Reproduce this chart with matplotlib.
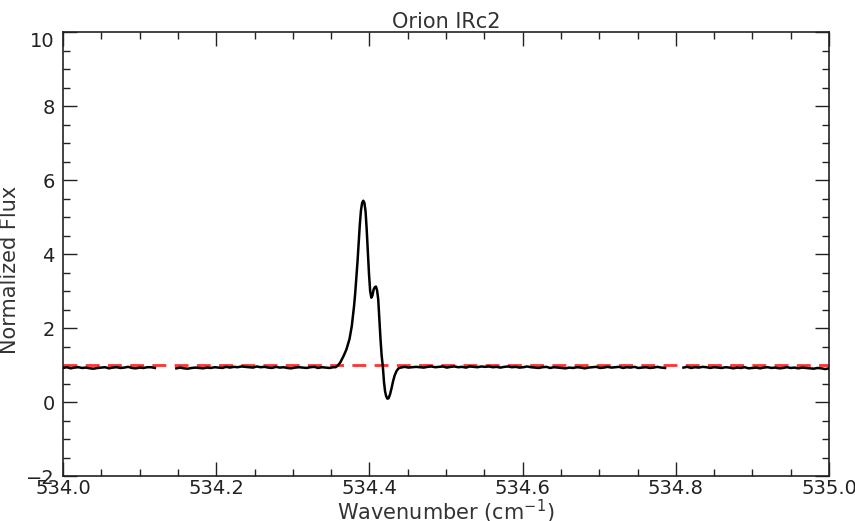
import numpy as np
from matplotlib import pyplot as plt
from matplotlib.ticker import MultipleLocator

# spectrum, continuum pieces sampled every 0.005 cm^-1
STEP = 0.005
seg_a_start = 534.000
seg_a_flux = [0.92, 0.94, 0.91, 0.93, 0.94, 0.92, 0.93, 0.91, 0.90, 0.92,
              0.93, 0.94, 0.91, 0.93, 0.94, 0.92, 0.93, 0.95, 0.92, 0.91,
              0.93, 0.92, 0.94, 0.94, 0.92]
seg_b_start = 534.148
seg_b_flux = [0.91, 0.93, 0.91, 0.90, 0.92, 0.93, 0.92, 0.91, 0.93, 0.92,
              0.94, 0.93, 0.92, 0.95, 0.93, 0.95, 0.94, 0.96, 0.95, 0.94,
              0.93, 0.96, 0.94, 0.95, 0.93, 0.92, 0.95, 0.93, 0.94, 0.92,
              0.91, 0.93, 0.94, 0.93, 0.92, 0.94, 0.95, 0.92, 0.94, 0.93,
              0.92, 0.94]
# line profile (irregular sampling)
line_wn = [534.356, 534.359, 534.362, 534.366, 534.370, 534.374, 534.377,
           534.380, 534.3815, 534.383, 534.3845, 534.386, 534.3875, 534.389,
           534.3905, 534.392, 534.3935, 534.395, 534.3965, 534.398, 534.3995,
           534.401, 534.4025, 534.404, 534.4055, 534.407, 534.4085, 534.410,
           534.4115, 534.413, 534.4145, 534.416, 534.4175, 534.419, 534.4205,
           534.422, 534.4235, 534.425, 534.427, 534.429, 534.431, 534.433,
           534.4355, 534.438]
line_flux = [0.94, 0.99, 1.07, 1.23, 1.42, 1.70, 2.05,
             2.60, 2.95, 3.38, 3.80, 4.30, 4.80, 5.18,
             5.38, 5.44, 5.38, 5.15, 4.65, 4.05, 3.45,
             3.00, 2.82, 2.88, 3.04, 3.10, 3.12, 3.02,
             2.78, 2.23, 1.70, 1.25, 0.97, 0.55, 0.28,
             0.15, 0.09, 0.10, 0.21, 0.38, 0.57, 0.72,
             0.84, 0.91]
seg_c_start = 534.441
seg_c_flux = [0.93, 0.95, 0.93, 0.94, 0.95, 0.94, 0.93, 0.95, 0.96, 0.94,
              0.95, 0.96, 0.93, 0.95, 0.96, 0.94, 0.95, 0.93, 0.96, 0.95,
              0.94, 0.96, 0.95, 0.96, 0.94, 0.95, 0.93, 0.95, 0.96, 0.94,
              0.95, 0.93, 0.94, 0.96, 0.94, 0.93, 0.92, 0.94, 0.95, 0.92,
              0.94, 0.93, 0.92, 0.91, 0.93, 0.92, 0.94, 0.93, 0.91, 0.93,
              0.94, 0.95, 0.92, 0.93, 0.95, 0.93, 0.94, 0.95, 0.92, 0.94,
              0.93, 0.95, 0.92, 0.93, 0.94, 0.92, 0.93, 0.95, 0.93, 0.92]
seg_d_start = 534.810
seg_d_flux = [0.93, 0.95, 0.92, 0.94, 0.93, 0.95, 0.94, 0.92, 0.94, 0.93,
              0.92, 0.94, 0.93, 0.91, 0.93, 0.92, 0.94, 0.91, 0.92, 0.93,
              0.91, 0.93, 0.94, 0.92, 0.93, 0.91, 0.92, 0.94, 0.92, 0.93,
              0.91, 0.93, 0.92, 0.91, 0.90, 0.92, 0.91, 0.89, 0.91]
continuum_level = 1.0

title = 'Orion IRc2'
xlabel = 'Wavenumber (cm$^{-1}$)'
ylabel = 'Normalized Flux'


def seg(start, flux):
    return start + STEP * np.arange(len(flux)), np.array(flux)


xa, ya = seg(seg_a_start, seg_a_flux)
xb, yb = seg(seg_b_start, seg_b_flux)
xc, yc = seg(seg_c_start, seg_c_flux)
xd, yd = seg(seg_d_start, seg_d_flux)
# middle piece joins continuum + line profile (no gap there)
xm = np.concatenate([xb, line_wn, xc])
ym = np.concatenate([yb, line_flux, yc])

plt.rcParams['font.family'] = ['DejaVu Sans']
fig = plt.figure(figsize=(8.55, 5.21), dpi=100)
ax = fig.add_axes([63 / 855, 1 - 476 / 521, 766 / 855, 444 / 521])

ink = '#222222'
for x, y in [(xa, ya), (xm, ym), (xd, yd)]:
    ax.plot(x, y, color='black', lw=1.8, zorder=3)
ax.axhline(continuum_level, color='#ff3333', lw=2, dashes=(5, 3), zorder=2)

ax.set_xlim(534.0, 535.0)
ax.set_ylim(-2, 10)
ax.xaxis.set_major_locator(MultipleLocator(0.2))
ax.xaxis.set_minor_locator(MultipleLocator(0.05))
ax.yaxis.set_major_locator(MultipleLocator(2))
ax.yaxis.set_minor_locator(MultipleLocator(0.5))
ax.xaxis.set_major_formatter(plt.FuncFormatter(lambda v, p: f'{v:.1f}'))
ax.yaxis.set_major_formatter(plt.FuncFormatter(lambda v, p: f'{v:.0f}'.replace('-', '\u2212')))

ax.tick_params(which='both', direction='in', top=True, right=True, width=1, color=ink)
ax.tick_params(which='major', length=10, labelsize=14, labelcolor=ink)
ax.tick_params(which='minor', length=5)
ax.tick_params(axis='x', pad=2)
ax.tick_params(axis='y', pad=6)
for s in ax.spines.values():
    s.set_linewidth(1.2)
    s.set_color(ink)

ax.set_title(title, fontsize=15, color='#333333', pad=2)
ax.set_xlabel(xlabel, fontsize=15, color='#333333', labelpad=0)
ax.set_ylabel(ylabel, fontsize=15, color='#333333')
ax.yaxis.set_label_coords(-0.056, 0.464)

# IDL-style: top y label hangs below its tick
fig.canvas.draw()
for t in ax.yaxis.get_major_ticks():
    if abs(t.get_loc() - 10) < 1e-6:
        t.label1.set_va('top')

fig.savefig('out.png', dpi=100)
